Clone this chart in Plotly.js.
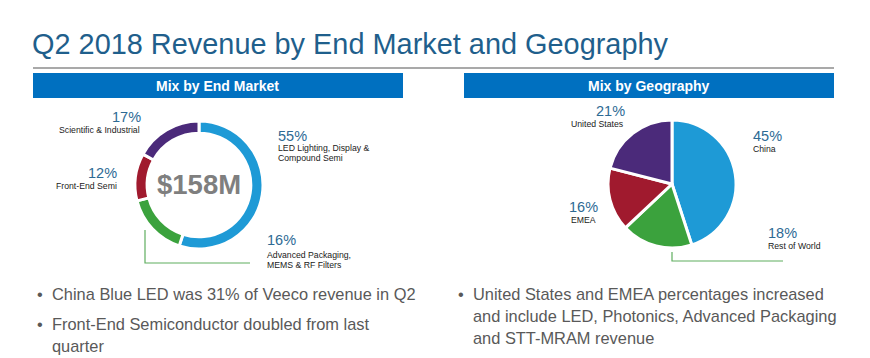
<!DOCTYPE html>
<html>
<head>
<meta charset="utf-8">
<script src="https://cdn.plot.ly/plotly-3.0.1.min.js"></script>
<style>
  html, body { margin: 0; padding: 0; background: #ffffff; }
  #chart { width: 870px; height: 358px; }
</style>
</head>
<body>
<div id="chart"></div>
<script>
// ---------- DATA ----------
const pageTitle = 'Q2 2018 Revenue by End Market and Geography';
const panelTitles = ['Mix by End Market', 'Mix by Geography'];

const endMarketLabels = ['LED Lighting, Display & Compound Semi', 'Advanced Packaging, MEMS & RF Filters', 'Front-End Semi', 'Scientific & Industrial'];
const endMarketValues = [55, 16, 12, 17];
const endMarketLabelLines = [['LED Lighting, Display &', 'Compound Semi'], ['Advanced Packaging,', 'MEMS & RF Filters'], ['Front-End Semi'], ['Scientific & Industrial']];
const endMarketTotal = '$158M';

const geoLabels = ['China', 'Rest of World', 'EMEA', 'United States'];
const geoValues = [45, 18, 16, 21];

const leftBullets = [['China Blue LED was 31% of Veeco revenue in Q2'], ['Front-End Semiconductor doubled from last', 'quarter']];
const rightBullets = [['United States and EMEA percentages increased', 'and include LED, Photonics, Advanced Packaging', 'and STT-MRAM revenue']];

const sliceColors = ['#1e9ad6', '#3ba23d', '#a01a2e', '#4b2a7a'];

// ---------- HELPERS ----------
const W = 870, H = 358;
const px = x => x / W;
const py = y => 1 - y / H;
const FONT = 'Liberation Sans, Arial, Helvetica, sans-serif';
const annotations = [];
function txt(text, x, baseline, size, color, anchor, bold) {
  annotations.push({
    text: bold ? '<b>' + text + '</b>' : text,
    xref: 'paper', yref: 'paper',
    x: px(x), y: py(baseline - 0.34 * size),
    xanchor: anchor || 'left', yanchor: 'middle',
    showarrow: false, borderpad: 0,
    font: { family: FONT, size: size, color: color }
  });
}

// ---------- TEXT ----------
txt(pageTitle, 31, 54, 28.9, '#1f5f8c', 'left');
txt(panelTitles[0], 218, 91, 14, '#ffffff', 'center', true);
txt(panelTitles[1], 649, 91, 14, '#ffffff', 'center', true);

const pctColor = '#2d6a94', lblColor = '#1a1a1a';
const PS = 14.5, LS = 8.7;
// end market labels
txt(endMarketValues[0] + '%', 277, 141, PS, pctColor, 'left');
txt(endMarketLabelLines[0][0], 277, 151, LS, lblColor, 'left');
txt(endMarketLabelLines[0][1], 277, 161, LS, lblColor, 'left');
txt(endMarketValues[1] + '%', 266, 245, PS, pctColor, 'left');
txt(endMarketLabelLines[1][0], 266, 258, LS, lblColor, 'left');
txt(endMarketLabelLines[1][1], 266, 268, LS, lblColor, 'left');
txt(endMarketValues[2] + '%', 118, 178, PS, pctColor, 'right');
txt(endMarketLabelLines[2][0], 118, 189, LS, lblColor, 'right');
txt(endMarketValues[3] + '%', 142, 122, PS, pctColor, 'right');
txt(endMarketLabelLines[3][0], 141, 133, LS, lblColor, 'right');
txt(endMarketTotal, 199, 194, 27.5, '#7f7f7f', 'center', true);

// geography labels
txt(geoValues[0] + '%', 752, 141, PS, pctColor, 'left');
txt(geoLabels[0], 752, 152, LS, lblColor, 'left');
txt(geoValues[1] + '%', 767, 238, PS, pctColor, 'left');
txt(geoLabels[1], 767, 249, LS, lblColor, 'left');
txt(geoValues[2] + '%', 568, 212, PS, pctColor, 'left');
txt(geoLabels[2], 570, 223, LS, lblColor, 'left');
txt(geoValues[3] + '%', 610, 116, PS, pctColor, 'center');
txt(geoLabels[3], 597, 127, LS, lblColor, 'center');

// bullets
const BS = 16.4, bColor = '#595959';
txt('•', 40, 300, BS, bColor, 'center');
txt(leftBullets[0][0], 51, 300, BS, bColor, 'left');
txt('•', 40, 330, BS, bColor, 'center');
txt(leftBullets[1][0], 51, 330, BS, bColor, 'left');
txt(leftBullets[1][1], 51, 352, BS, bColor, 'left');
txt('•', 461, 300, BS, bColor, 'center');
txt(rightBullets[0][0], 472, 300, BS, bColor, 'left');
txt(rightBullets[0][1], 472, 322, BS, bColor, 'left');
txt(rightBullets[0][2], 472, 344, BS, bColor, 'left');

// ---------- SHAPES ----------
function poly(pts) {
  return pts.map((p, i) => (i ? 'L' : 'M') + px(p[0]) + ',' + py(p[1])).join(' ');
}
const shapes = [
  { type: 'line', xref: 'paper', yref: 'paper', x0: px(33), x1: px(834), y0: py(68), y1: py(68), line: { color: '#8c8c8c', width: 1.5 } },
  { type: 'rect', xref: 'paper', yref: 'paper', x0: px(33), x1: px(403), y0: py(98), y1: py(73), fillcolor: '#0070c0', line: { width: 0 } },
  { type: 'rect', xref: 'paper', yref: 'paper', x0: px(464), x1: px(834), y0: py(98), y1: py(73), fillcolor: '#0070c0', line: { width: 0 } },
  { type: 'path', xref: 'paper', yref: 'paper', path: poly([[145, 230], [145, 263], [250, 263]]), line: { color: '#5fae5f', width: 1.2 } },
  { type: 'path', xref: 'paper', yref: 'paper', path: poly([[672, 252], [672, 261], [783, 261]]), line: { color: '#5fae5f', width: 1.2 } }
];

// ---------- TRACES ----------
const traces = [
  {
    type: 'pie', labels: endMarketLabels, values: endMarketValues, sort: false,
    direction: 'clockwise', rotation: 0, hole: 0.81,
    marker: { colors: sliceColors, line: { color: '#ffffff', width: 3 } },
    textinfo: 'none', hoverinfo: 'none', showlegend: false,
    domain: { x: [px(135), px(263)], y: [py(249), py(121)] }
  },
  {
    type: 'pie', labels: geoLabels, values: geoValues, sort: false,
    direction: 'clockwise', rotation: 0,
    marker: { colors: sliceColors, line: { color: '#ffffff', width: 3 } },
    textinfo: 'none', hoverinfo: 'none', showlegend: false,
    domain: { x: [px(608), px(736)], y: [py(248), py(120)] }
  }
];

Plotly.newPlot('chart', traces, {
  width: W, height: H,
  margin: { l: 0, r: 0, t: 0, b: 0 },
  paper_bgcolor: '#ffffff', plot_bgcolor: '#ffffff',
  showlegend: false,
  annotations: annotations,
  shapes: shapes
}, { displayModeBar: false, staticPlot: true });
</script>
</body>
</html>
